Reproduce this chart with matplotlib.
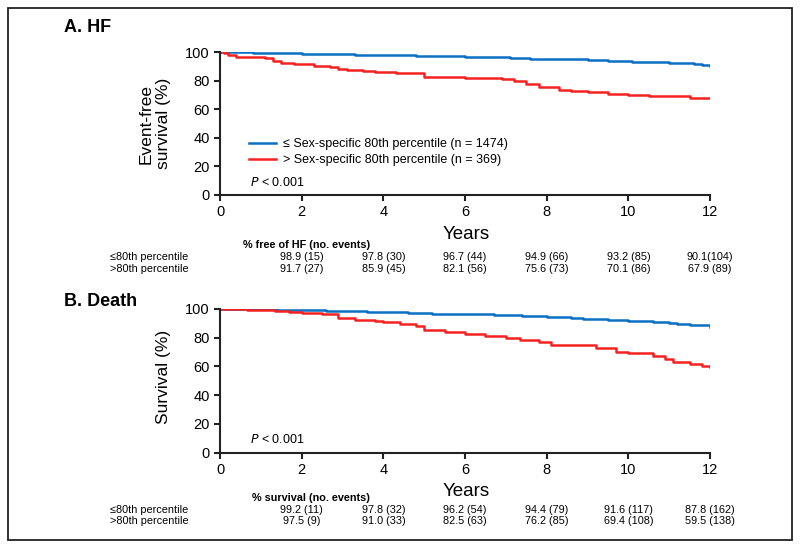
import matplotlib
matplotlib.use("Agg")
import matplotlib.pyplot as plt
from matplotlib.patches import Rectangle

plt.rcParams['font.family'] = ['Liberation Sans', 'DejaVu Sans']

# Kaplan-Meier step curves (years, % event-free)
hf_low_t = [0, 0.8, 1.2, 1.5, 2.0, 2.3, 2.6, 3.0, 3.3, 3.7, 4.0, 4.4, 4.8, 5.4, 6.0, 6.8, 7.1, 7.3, 7.6, 7.8, 8.8, 9.0, 9.2, 9.5, 9.8, 10.1, 10.4, 11.0, 11.4, 11.6, 11.8, 12.0]
hf_low_s = [100, 99.6, 99.4, 99.2, 98.9, 98.8, 98.6, 98.4, 98.2, 98.0, 97.8, 97.6, 97.4, 97.0, 96.7, 96.5, 96.1, 95.8, 95.3, 95.0, 94.9, 94.6, 94.3, 93.9, 93.6, 93.3, 93.1, 92.6, 92.0, 91.5, 90.8, 90.1]
hf_high_t = [0, 0.1, 0.2, 0.4, 1.1, 1.3, 1.5, 1.8, 2.3, 2.7, 2.9, 3.1, 3.5, 3.8, 4.3, 4.8, 5.0, 5.5, 6.0, 6.5, 6.9, 7.2, 7.5, 7.8, 8.3, 8.6, 9.0, 9.5, 10.0, 10.5, 11.5, 12.0]
hf_high_s = [100, 99, 98, 96.2, 95.5, 94, 92.6, 91.7, 90.5, 89.3, 88.3, 87.4, 86.6, 86.1, 85.6, 85.0, 82.8, 82.5, 82.1, 81.7, 81.2, 79.6, 77.5, 75.6, 73.6, 72.7, 71.8, 70.4, 70.1, 69.3, 67.9, 67.9]

d_low_t = [0, 0.9, 1.4, 2.0, 2.3, 2.6, 2.9, 3.2, 3.6, 4.0, 4.3, 4.6, 5.2, 5.6, 6.0, 6.7, 7.4, 8.0, 8.6, 8.9, 9.5, 10.0, 10.6, 11.0, 11.2, 11.5, 12.0]
d_low_s = [100, 99.9, 99.5, 99.2, 99.0, 98.8, 98.6, 98.3, 98.1, 97.8, 97.6, 97.3, 96.8, 96.5, 96.2, 95.7, 95.2, 94.4, 94.0, 92.8, 92.2, 91.6, 90.9, 90.2, 89.4, 88.6, 87.6]
d_high_t = [0, 0.65, 1.0, 1.35, 1.7, 2.0, 2.5, 2.9, 3.3, 3.8, 4.0, 4.4, 4.8, 5.0, 5.5, 6.0, 6.5, 7.0, 7.35, 7.8, 8.1, 8.8, 9.2, 9.7, 10.0, 10.6, 10.9, 11.1, 11.5, 11.8, 12.0]
d_high_s = [100, 99.6, 99.2, 98.8, 97.8, 97.5, 96.5, 93.8, 92.5, 91.5, 91.0, 89.8, 88.0, 85.5, 84.3, 82.5, 81.0, 79.5, 78.2, 77.0, 75.0, 74.6, 72.5, 70.0, 69.4, 67.5, 65.0, 62.8, 61.8, 60.3, 59.5]

table_years = [2, 4, 6, 8, 10, 12]
hf_low_tab = ['98.9 (15)', '97.8 (30)', '96.7 (44)', '94.9 (66)', '93.2 (85)', '90.1(104)']
hf_high_tab = ['91.7 (27)', '85.9 (45)', '82.1 (56)', '75.6 (73)', '70.1 (86)', '67.9 (89)']
d_low_tab = ['99.2 (11)', '97.8 (32)', '96.2 (54)', '94.4 (79)', '91.6 (117)', '87.8 (162)']
d_high_tab = ['97.5 (9)', '91.0 (33)', '82.5 (63)', '76.2 (85)', '69.4 (108)', '59.5 (138)']

blue = '#0B6FC4'
red = '#F52222'
narrow = ['Liberation Sans Narrow', 'Liberation Sans']

W, H = 800, 548
fig = plt.figure(figsize=(8, 5.48), dpi=100)
fig.patches.append(Rectangle((8 / W, 1 - 540 / H), 784 / W, 532 / H,
                             transform=fig.transFigure, fill=False, edgecolor='#222222', linewidth=1.3))


def panel(rect, title, title_y, ylabel, ylab_x, ylab_y, lt, ls, ht, hs, header, lowtab, hightab, legend):
    ax = fig.add_axes(rect)
    ax.step(lt, ls, where='post', color=blue, lw=1.8, label='\u2264 Sex-specific 80th percentile (n = 1474)')
    ax.step(ht, hs, where='post', color=red, lw=1.8, label='> Sex-specific 80th percentile (n = 369)')
    ax.set_xlim(0, 12)
    ax.set_ylim(0, 100)
    ax.set_xticks(range(0, 13, 2))
    ax.set_yticks(range(0, 101, 20))
    for s in ['top', 'right']:
        ax.spines[s].set_visible(False)
    for s in ['left', 'bottom']:
        ax.spines[s].set_linewidth(1.5)
        ax.spines[s].set_color('#222222')
    ax.tick_params(direction='out', length=4, width=1.5, labelsize=10.5, color='#222222')
    ax.set_xlabel('Years', fontsize=13.5)
    ax.xaxis.set_label_coords(0.502, -0.215)
    ax.text(ylab_x, ylab_y, ylabel, transform=ax.transAxes, rotation=90,
            ha='center', va='center', fontsize=12.5, linespacing=1.15)
    ax.text(0.061, 0.09, '$P$ < 0.001', transform=ax.transAxes, fontsize=9, va='center')
    if legend:
        ax.legend(loc='upper left', bbox_to_anchor=(0.037, 0.475), frameon=False, fontsize=9,
                  handlelength=2.1, handletextpad=0.6, labelspacing=0.3)
    fig.text(64 / W, 1 - title_y / H, title, fontsize=13, fontweight='bold', va='center')
    # number table below the axis
    bottom_px = H - rect[1] * H
    fig.text(header[1] / W, 1 - (bottom_px + header[2]) / H, header[0],
             fontsize=7.8, fontweight='bold', family=narrow, va='center')
    tr = ax.get_xaxis_transform()
    for yr, a, b in zip(table_years, lowtab, hightab):
        ax.text(yr, -(header[2] + 12) / (rect[3] * H), a, transform=tr, ha='center', va='center',
                fontsize=7.8, family=narrow)
        ax.text(yr, -(header[2] + 23.5) / (rect[3] * H), b, transform=tr, ha='center', va='center',
                fontsize=7.8, family=narrow)
    fig.text(110 / W, 1 - (bottom_px + header[2] + 12) / H, '\u226480th percentile',
             fontsize=7.8, family=narrow, va='center')
    fig.text(110 / W, 1 - (bottom_px + header[2] + 23.5) / H, '>80th percentile',
             fontsize=7.8, family=narrow, va='center')
    return ax


panel([220 / W, 1 - 195 / H, 490 / W, 143 / H], 'A. HF', 27, 'Event-free\nsurvival (%)', -0.133, 0.50,
      hf_low_t, hf_low_s, hf_high_t, hf_high_s, ('% free of HF (no. events)', 243, 50),
      hf_low_tab, hf_high_tab, True)
panel([220 / W, 1 - 452.5 / H, 490 / W, 143.5 / H], 'B. Death', 302, 'Survival (%)', -0.116, 0.53,
      d_low_t, d_low_s, d_high_t, d_high_s, ('% survival (no. events)', 252, 45.5),
      d_low_tab, d_high_tab, False)

fig.savefig('out.png', dpi=100)
